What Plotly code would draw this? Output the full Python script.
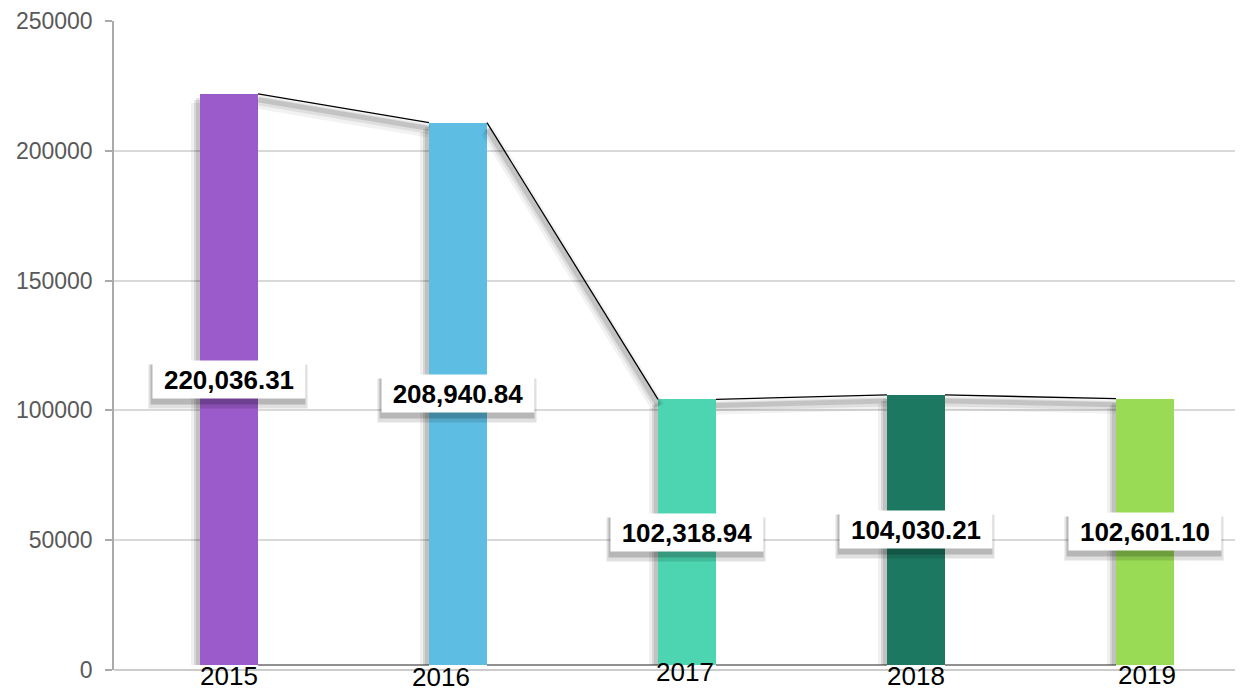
import plotly.graph_objects as go

years = ["2015", "2016", "2017", "2018", "2019"]
values = [220036.31, 208940.84, 102318.94, 104030.21, 102601.10]
colors = ["#9B5BCA", "#5EBDE3", "#4CD5B0", "#1D7861", "#9ADB56"]
y_ticks = [0, 50000, 100000, 150000, 200000, 250000]

# style settings
BAR_W = 0.253
PX_X = 229.0           # pixels per category unit
PX_Y = 649.0 / 250000  # pixels per value unit
LIFT = 5 / PX_Y        # bars are drawn lifted a few pixels above the zero line
label_dx = [0, -17, -2, 0, 2]
label_dy = [-6, -7, -2, -6, -5]

xs = list(range(len(years)))
fig = go.Figure()

# bar shadows
for dx, dy, alpha in [(-9, 9, 0.06), (-6, 6, 0.10), (-4, 4, 0.10)]:
    fig.add_trace(go.Bar(
        x=xs, y=[v - dy / PX_Y for v in values], base=LIFT,
        width=BAR_W, offset=-BAR_W / 2 + dx / PX_X,
        marker=dict(color=f"rgba(0,0,0,{alpha})", line=dict(width=0)),
        hoverinfo="skip", showlegend=False))

# main bars
fig.add_trace(go.Bar(
    x=xs, y=values, base=LIFT, width=BAR_W, offset=-BAR_W / 2,
    marker=dict(color=colors, line=dict(width=0)), showlegend=False))

# connector lines between bar tops and between bar bottoms
def segments(tops, dy_px=0.0):
    sx, sy = [], []
    for i in range(len(tops) - 1):
        sx += [xs[i] + BAR_W / 2, xs[i + 1] - BAR_W / 2, None]
        sy += [tops[i] - dy_px / PX_Y, tops[i + 1] - dy_px / PX_Y, None]
    return sx, sy

tops = [v + LIFT for v in values]
for dy, w, alpha in [(8, 14, 0.05), (7, 9, 0.08), (6, 5, 0.12)]:
    sx, sy = segments(tops, dy)
    fig.add_trace(go.Scatter(x=sx, y=sy, mode="lines",
                             line=dict(color=f"rgba(0,0,0,{alpha})", width=w),
                             hoverinfo="skip", showlegend=False))
sx, sy = segments(tops)
fig.add_trace(go.Scatter(x=sx, y=sy, mode="lines",
                         line=dict(color="black", width=1.3),
                         hoverinfo="skip", showlegend=False))
sx, sy = segments([LIFT for _ in values])
fig.add_trace(go.Scatter(x=sx, y=sy, mode="lines",
                         line=dict(color="#222222", width=1.2),
                         hoverinfo="skip", showlegend=False))

annotations = []
# value labels with drop shadows
for i, v in enumerate(values):
    for sdx, sdy, alpha, grow in [(-1, -7, 0.12, 6), (-1, -5, 0.18, 2)]:
        annotations.append(dict(
            x=xs[i], y=v / 2, xref="x", yref="y", text="",
            showarrow=False, width=150 + grow, height=35 + grow,
            bgcolor=f"rgba(0,0,0,{alpha})", xshift=sdx, yshift=5 + sdy))
    annotations.append(dict(
        x=xs[i], y=v / 2, xref="x", yref="y",
        text=f"<b>{v:,.2f}</b>", showarrow=False,
        width=150, height=35, bgcolor="white", yshift=5,
        font=dict(family="Liberation Sans, Arial", size=26, color="black")))

# category labels
for i, yr in enumerate(years):
    annotations.append(dict(
        x=xs[i], y=0, xref="x", yref="y", text=yr, showarrow=False,
        yanchor="middle", xshift=label_dx[i], yshift=label_dy[i],
        font=dict(family="Liberation Sans, Arial", size=26, color="black")))

# page body adds an 8px offset, so the figure is sized/margined to compensate
fig.update_layout(
    width=1235, height=683,
    margin=dict(l=106, r=0, t=13, b=21, autoexpand=False),
    paper_bgcolor="white", plot_bgcolor="white",
    barmode="overlay", bargap=0,
    showlegend=False,
    annotations=annotations,
    xaxis=dict(range=[-115 / PX_X, (1243 - 114 - 115) / PX_X],
               showticklabels=False, showgrid=False, zeroline=False,
               showline=False, ticks=""),
    yaxis=dict(range=[0, 250000], tickvals=y_ticks,
               ticktext=[str(t) for t in y_ticks], automargin=False,
               showgrid=True, gridcolor="#d9d9d9", gridwidth=1.5,
               zeroline=True, zerolinecolor="#cccccc", zerolinewidth=2,
               showline=True, linecolor="#aaaaaa", linewidth=1.5,
               ticks="outside", ticklen=7, tickcolor="#aaaaaa", tickwidth=1.5,
               ticklabelstandoff=8,
               tickfont=dict(family="Liberation Sans, Arial", size=23, color="#595959")),
)

fig.write_html("out.html")
